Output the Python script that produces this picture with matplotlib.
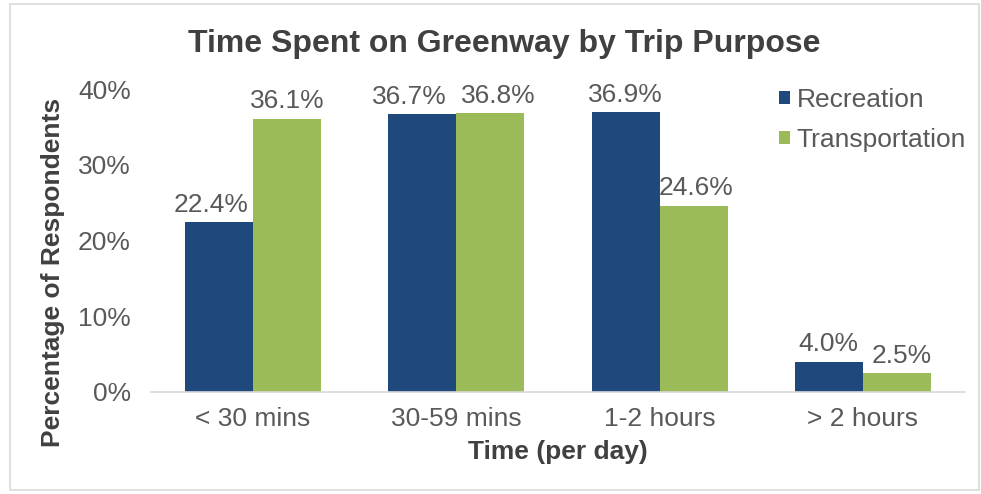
import matplotlib.pyplot as plt
import matplotlib.patches as mpatches
import numpy as np

plt.rcParams['font.family'] = ['Liberation Sans', 'DejaVu Sans']

# data
categories = ['< 30 mins', '30-59 mins', '1-2 hours', '> 2 hours']
recreation = [22.4, 36.7, 36.9, 4.0]
transportation = [36.1, 36.8, 24.6, 2.5]
yticks = [0, 10, 20, 30, 40]

# sideways nudges of the data labels (pixels), like Excel spreads crowded labels
nudge_rec = [-8, -13, 0, 0]
nudge_tra = [0, 8, 2, 5]

blue = '#1F497D'
green = '#9BBB59'
grey_txt = '#595959'
fs = 19

fig = plt.figure(figsize=(9.81, 4.94), dpi=100)
ax = fig.add_axes([0.1544, 0.2065, 0.8288, 0.6133])

x = np.arange(len(categories))
w = 0.335
b1 = ax.bar(x - w / 2, recreation, w, color=blue, label='Recreation')
b2 = ax.bar(x + w / 2, transportation, w, color=green, label='Transportation')

for bars, vals, nud in [(b1, recreation, nudge_rec), (b2, transportation, nudge_tra)]:
    for r, v, dx in zip(bars, vals, nud):
        ax.annotate(f'{v:.1f}%', (r.get_x() + r.get_width() / 2, v),
                    xytext=(dx * 0.72, 7.5), textcoords='offset points',
                    ha='center', va='baseline', fontsize=fs, color=grey_txt,
                    annotation_clip=False)

ax.set_xlim(-0.5, 3.5)
ax.set_ylim(0, 40)
ax.set_yticks(yticks)
ax.set_yticklabels([f'{t}%' for t in yticks])
ax.set_xticks(x)
ax.set_xticklabels(categories)
ax.tick_params(axis='both', length=0, labelsize=fs, colors=grey_txt)
ax.tick_params(axis='y', pad=15)
ax.tick_params(axis='x', pad=11)

for s in ['top', 'right', 'left']:
    ax.spines[s].set_visible(False)
ax.spines['bottom'].set_color('#D9D9D9')
ax.spines['bottom'].set_linewidth(1.2)

ax.set_xlabel('Time (per day)', fontsize=fs, fontweight='bold', color='#404040', labelpad=6)
ax.set_ylabel('Percentage of Respondents', fontsize=fs, fontweight='bold', color='#404040')
ax.yaxis.set_label_coords(53 / 981, 1 - 272 / 494, transform=fig.transFigure)
ax.yaxis.label.set_verticalalignment('center')
fig.text(0.514, 0.911, 'Time Spent on Greenway by Trip Purpose', ha='center', va='center',
         fontsize=23, fontweight='bold', color='#404040')

leg = ax.legend(loc='upper left', bbox_to_anchor=(779 / 981, 1 - 88 / 494),
                bbox_transform=fig.transFigure, frameon=False, fontsize=fs,
                borderpad=0, borderaxespad=0,
                handlelength=0.42, handleheight=0.42, handletextpad=0.25, labelspacing=0.6)
for t in leg.get_texts():
    t.set_color(grey_txt)

# outer chart border
fig.patches.append(mpatches.Rectangle((10 / 981, 4 / 494), 969 / 981, 486 / 494,
                                      transform=fig.transFigure, fill=False,
                                      edgecolor='#D9D9D9', linewidth=1.2))

fig.savefig('out.png', dpi=100)
